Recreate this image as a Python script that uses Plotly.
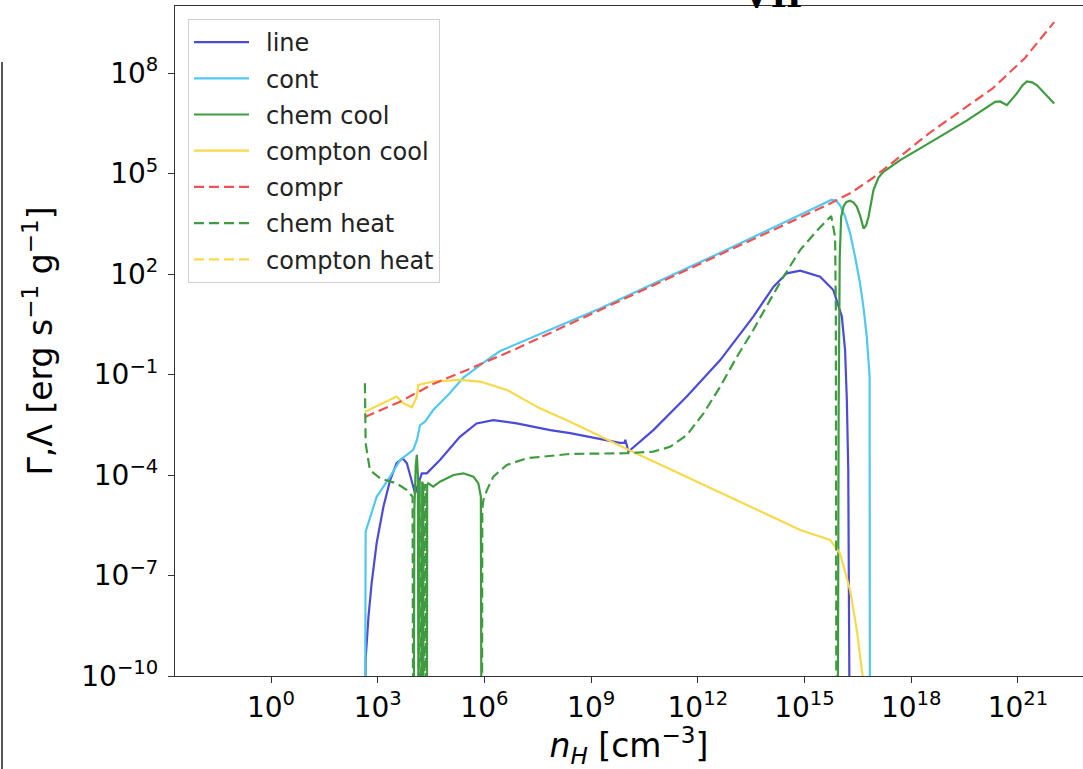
import numpy as np
import plotly.graph_objects as go

# log10(n_H) / log10(rate) values (-14 = below axis)
line_lx = [2.64, 2.66, 2.74, 2.83, 2.97, 3.16, 3.35, 3.53, 3.70, 3.82, 4.05, 4.24, 4.38, 4.75, 5.31, 5.78,
           6.25, 6.91, 7.85, 8.41, 9.81, 9.94, 9.96, 10.05, 10.75, 11.69, 12.63, 13.56, 14.13, 14.50,
           14.88, 15.44, 15.81, 16.05, 16.14, 16.19, 16.23, 16.26, 16.28]
line_ly = [-14, -9.5, -8.23, -7.22, -6.03, -4.95, -4.15, -3.65, -3.50, -3.65, -4.55, -3.95, -3.95, -3.55,
           -2.86, -2.46, -2.36, -2.46, -2.66, -2.75, -3.04, -3.04, -2.95, -3.30, -2.66, -1.66, -0.57, 0.73,
           1.62, 2.02, 2.10, 1.92, 1.52, 0.73, -0.27, -1.76, -3.85, -7.0, -14]

cont_lx = [2.64, 2.66, 2.97, 3.35, 3.63, 4.00, 4.10, 4.19, 4.33, 4.56, 5.03, 5.40, 6.07, 6.44, 9.25,
           12.5, 15.0, 15.75, 15.88, 16.0, 16.14, 16.28, 16.42, 16.56, 16.66, 16.75, 16.83, 16.84]
cont_ly = [-14, -5.69, -4.65, -4.05, -3.55, -3.25, -2.96, -2.51, -2.41, -2.06, -1.55, -1.10, -0.57, -0.30,
           0.97, 2.57, 3.83, 4.21, 4.20, 4.05, 3.72, 3.22, 2.52, 1.73, 0.98, 0.13, -1.07, -14]

chemcool_lx = [4.01, 4.03, 4.07, 4.10, 4.13, 4.15, 4.24, 4.25, 4.28, 4.29, 4.38, 4.39, 4.42, 4.56, 4.75,
               5.13, 5.41, 5.69, 5.83, 5.90, 5.92, 15.93, 15.96, 15.99, 16.03, 16.1, 16.18, 16.28, 16.38,
               16.47, 16.57, 16.66, 16.73, 16.80, 16.94, 17.08, 17.22, 17.69, 18.62, 19.56, 20.36, 20.50,
               20.69, 20.97, 21.12, 21.25, 21.40, 21.53, 22.02]
chemcool_ly = [-14, -5.0, -3.7, -3.40, -4.0, -14, -14, -4.2, -4.3, -14, -14, -4.3, -4.25, -4.35, -4.20,
               -4.0, -3.95, -4.05, -4.25, -4.65, -14, -14, -2.0, 2.5, 3.7, 4.03, 4.15, 4.19, 4.13,
               4.01, 3.72, 3.36, 3.45, 3.71, 4.51, 4.88, 5.05, 5.4, 5.98, 6.58, 7.14, 7.15, 7.04, 7.39, 7.62,
               7.75, 7.72, 7.64, 7.09]

comptoncool_lx = [2.64, 3.16, 3.53, 3.72, 3.96, 4.10, 4.14, 4.56, 5.31, 5.88, 6.63, 7.56, 8.41, 9.96,
                  11.78, 13.47, 14.88, 15.72, 16.0, 16.28, 16.47, 16.61, 16.75]
comptoncool_ly = [-2.11, -1.86, -1.66, -1.86, -1.98, -1.66, -1.31, -1.21, -1.16, -1.21, -1.46, -2.01,
                  -2.41, -3.2, -4.1, -4.95, -5.64, -5.94, -6.34, -7.43, -8.63, -9.8, -11.0]

compr_lx = [2.64, 3.63, 4.56, 5.50, 6.81, 9.25, 12.5, 15.66, 16.3, 16.9, 17.5, 18.5, 19.5, 20.3, 21.2, 22.02]
compr_ly = [-2.27, -1.81, -1.28, -0.87, -0.27, 0.93, 2.52, 4.07, 4.42, 4.85, 5.35, 6.2, 6.95, 7.55, 8.45, 9.52]

chemheat_lx = [2.64, 2.65, 2.66, 2.78, 3.07, 3.53, 3.82, 3.98, 4.00, 4.17, 4.18, 4.20, 4.22, 4.31, 4.32,
               4.35, 4.36, 5.93, 5.94, 5.97, 6.07, 6.25, 6.63, 7.19, 7.85, 8.41, 10.0, 10.75, 11.22, 11.69,
               12.16, 12.63, 13.10, 13.56, 14.03, 14.41, 14.88, 15.4, 15.75, 15.86, 15.88, 15.9]
chemheat_ly = [-1.26, -2.5, -3.05, -3.85, -4.10, -4.25, -4.45, -4.65, -14, -14, -4.15, -4.2, -14, -14, -4.3,
               -4.3, -14, -14, -5.0, -4.75, -4.45, -4.05, -3.70, -3.50, -3.43, -3.37, -3.35, -3.30, -3.16,
               -2.81, -2.16, -1.36, -0.47, 0.33, 1.22, 1.92, 2.72, 3.35, 3.73, 3.11, 1.0, -14]

comptonheat_lx = []
comptonheat_ly = []

xtick_exp = [0, 3, 6, 9, 12, 15, 18, 21]
ytick_exp = [-10, -7, -4, -1, 2, 5, 8]

series = [
    ("line", line_lx, line_ly, "#4b4bd8", "solid"),
    ("cont", cont_lx, cont_ly, "#52c8f0", "solid"),
    ("chem cool", chemcool_lx, chemcool_ly, "#3f9b3f", "solid"),
    ("compton cool", comptoncool_lx, comptoncool_ly, "#f7d94a", "solid"),
    ("compr", compr_lx, compr_ly, "#ee5252", "10px,5px"),
    ("chem heat", chemheat_lx, chemheat_ly, "#3f9b3f", "10px,5px"),
    ("compton heat", comptonheat_lx, comptonheat_ly, "#f7d94a", "10px,5px"),
]

fig = go.Figure()
for i, (name, lx, ly, col, dash) in enumerate(series):
    if len(lx):
        xs = np.power(10.0, np.array(lx))
        ys = np.power(10.0, np.array(ly))
    else:
        xs, ys = [None], [None]
    fig.add_trace(go.Scatter(x=xs, y=ys, mode="lines", name="\u2002" + name, legendgroup="g%d" % i,
                             line=dict(color=col, width=2.2, dash=dash)))

W, H = 1083, 769
L, R, T, B = 175, 0, 6, 93
pw, ph = W - L - R, H - T - B

def px(xp):
    return (xp - L) / pw

def py(yp):
    return (H - B - yp) / ph

tick_font = dict(family="DejaVu Sans", size=28, color="black")
title_font = dict(family="DejaVu Sans", size=33, color="black")
fig.update_layout(
    width=W, height=H,
    margin=dict(l=L, r=R, t=T, b=B, autoexpand=False),
    paper_bgcolor="white", plot_bgcolor="white",
    showlegend=True,
    legend=dict(x=px(188), y=py(19), xanchor="left", yanchor="top",
                bgcolor="white", bordercolor="#d0d0d0", borderwidth=1,
                itemwidth=55, tracegroupgap=2,
                font=dict(family="DejaVu Sans", size=24, color="#222")),
    xaxis=dict(type="log", range=[-2.7, 22.83], showgrid=False, zeroline=False,
               showline=True, linecolor="#333", linewidth=1.2, mirror=True,
               ticks="outside", ticklen=6, tickcolor="#333",
               tickvals=[10.0 ** e for e in xtick_exp],
               ticktext=["10<sup>%d</sup>" % e for e in xtick_exp],
               tickfont=tick_font,
               title=dict(text="<i>n</i><sub><i>H</i></sub> [cm<sup>\u22123</sup>]",
                          font=title_font, standoff=4)),
    yaxis=dict(type="log", range=[-10, 10], showgrid=False, zeroline=False,
               showline=True, linecolor="#333", linewidth=1.2,
               ticks="outside", ticklen=6, tickcolor="#333", ticklabelstandoff=4,
               tickvals=[10.0 ** e for e in ytick_exp],
               ticktext=["10<sup>\u2212%d</sup>" % -e if e < 0 else "10<sup>%d</sup>" % e for e in ytick_exp],
               tickfont=tick_font,
               title=dict(text="\u0393,\u039b [erg s<sup>\u22121</sup> g<sup>\u22121</sup>]",
                          font=title_font, standoff=18)),
    shapes=[dict(type="line", xref="paper", yref="paper", x0=px(2), x1=px(2), y0=py(62), y1=py(769),
                 line=dict(color="#555", width=2))],
    annotations=[dict(text="<b>VII</b>", xref="paper", yref="paper", x=px(772), y=1.0,
                      xanchor="center", yanchor="bottom", yshift=-12, showarrow=False,
                      font=dict(family="Liberation Serif", size=40, color="black"))],
)

fig.write_html("out.html", config={"displayModeBar": False},
               post_script="document.body.style.margin='0';document.body.style.overflow='hidden';")
